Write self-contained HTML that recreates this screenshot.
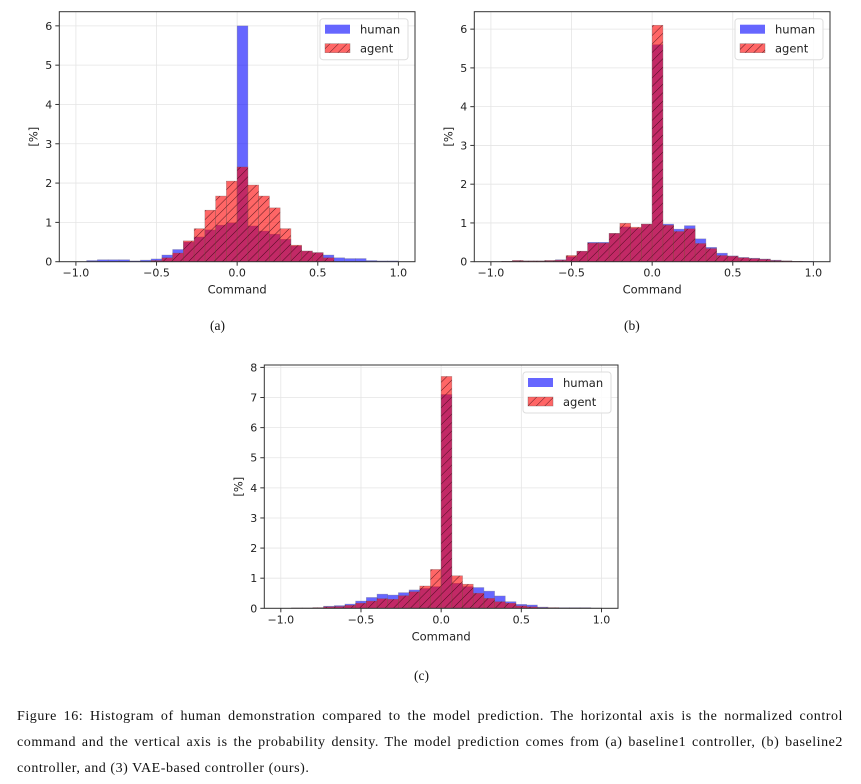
<!DOCTYPE html>
<html><head><meta charset="utf-8">
<style>
body{margin:0;background:#fff;width:861px;height:784px;overflow:hidden;position:relative;font-family:"Liberation Serif",serif;}
svg{position:absolute;left:0;top:0;}
.cap{position:absolute;font-family:"Liberation Serif",serif;font-size:13.5px;color:#111;}
.fig{position:absolute;left:17px;width:826px;font-family:"Liberation Serif",serif;font-size:14px;letter-spacing:0.55px;line-height:26px;color:#111;}
.fig .ln{display:block;text-align:justify;text-align-last:justify;white-space:nowrap;}
.fig .last{text-align-last:left;}
</style></head>
<body>
<svg id="svg" width="861" height="784">
<defs>
<pattern id="hatch" patternUnits="userSpaceOnUse" width="6" height="6" patternTransform="rotate(45)">
<line x1="0" y1="0" x2="0" y2="6" stroke="rgba(40,0,10,0.75)" stroke-width="1"/>
</pattern>
</defs>
</svg>
<div class="cap" style="left:210px;top:318px">(a)</div>
<div class="cap" style="left:624px;top:318px">(b)</div>
<div class="cap" style="left:414px;top:668px">(c)</div>
<div class="fig" style="top:704px"><span class="ln">Figure 16: Histogram of human demonstration compared to the model prediction. The horizontal axis is the normalized control</span><span class="ln">command and the vertical axis is the probability density. The model prediction comes from (a) baseline1 controller, (b) baseline2</span><span class="ln last">controller, and (3) VAE-based controller (ours).</span></div>
<script>
const binEdges = [-1,1];
const binCount = 30;
const xTicks = [-1.0,-0.5,0.0,0.5,1.0];
const xTickLabels = ["\u22121.0","\u22120.5","0.0","0.5","1.0"];
const humanA = [0,0.03,0.05,0.05,0.05,0.02,0.04,0.07,0.17,0.31,0.5,0.63,0.81,0.93,0.99,6.0,0.91,0.78,0.7,0.57,0.4,0.27,0.23,0.17,0.1,0.08,0.08,0.03,0.02,0.02];
const agentA = [0,0,0,0,0,0,0,0.03,0.1,0.22,0.53,0.84,1.31,1.67,2.05,2.41,1.95,1.67,1.37,0.84,0.42,0.27,0.23,0.1,0,0,0,0,0,0];
const humanB = [0,0.01,0.03,0.02,0.02,0.03,0.05,0.13,0.27,0.5,0.5,0.73,0.9,0.86,0.97,5.6,0.97,0.84,0.93,0.59,0.37,0.22,0.15,0.11,0.09,0.07,0.04,0.02,0.01,0.01];
const agentB = [0,0.01,0.03,0.02,0.02,0.03,0.04,0.16,0.27,0.48,0.48,0.73,0.99,0.89,0.97,6.1,0.94,0.78,0.85,0.47,0.34,0.16,0.14,0.1,0.08,0.06,0.03,0.02,0.01,0];
const humanC = [0,0.01,0.01,0.02,0.07,0.09,0.14,0.24,0.36,0.47,0.44,0.52,0.61,0.66,0.72,7.1,0.83,0.72,0.69,0.57,0.41,0.22,0.13,0.11,0.04,0.02,0.02,0.02,0.02,0.01];
const agentC = [0,0.01,0.01,0.02,0.05,0.06,0.1,0.17,0.24,0.32,0.3,0.42,0.55,0.74,1.29,7.7,1.08,0.8,0.5,0.33,0.22,0.17,0.08,0.05,0.02,0.02,0.01,0.01,0.01,0];
const yTicksA = [0,1,2,3,4,5,6];
const yTicksC = [0,1,2,3,4,5,6,7,8];

const NS="http://www.w3.org/2000/svg";
const svg=document.getElementById('svg');
function mk(tag,attrs,parent){const e=document.createElementNS(NS,tag);for(const k in attrs)e.setAttribute(k,attrs[k]);(parent||svg).appendChild(e);return e;}

function chart(id,L,T,R,B,ymax,human,agent,yTicks){
  const g=mk('g',{});
  
  
  const W=R-L,H=B-T;
  const xs=v=>L+(v+1.103)/2.206*W;
  const ys=v=>B-v/ymax*H;
  xTicks.forEach(t=>mk('line',{x1:xs(t),x2:xs(t),y1:T,y2:B,stroke:'#e5e5e5','stroke-width':0.8},g));
  yTicks.forEach(t=>mk('line',{x1:L,x2:R,y1:ys(t),y2:ys(t),stroke:'#e5e5e5','stroke-width':0.8},g));
  const bw=(binEdges[1]-binEdges[0])/binCount;
  human.forEach((v,i)=>{ if(v<=0)return;
    const r=mk('rect',{x:xs(binEdges[0]+i*bw),y:ys(v),width:xs(bw)-xs(0),height:B-ys(v),fill:'rgba(0,0,255,0.6)',stroke:'rgba(120,120,140,0.5)','stroke-width':0.6},g);
    
    
  });
  agent.forEach((v,i)=>{ if(v<=0)return;
    const a={x:xs(binEdges[0]+i*bw),y:ys(v),width:xs(bw)-xs(0),height:B-ys(v)};
    const r=mk('rect',Object.assign({fill:'rgba(255,0,0,0.6)',stroke:'rgba(120,90,90,0.5)','stroke-width':0.6},a),g);
    
    
    mk('rect',Object.assign({fill:'url(#hatch)'},a),g);
  });
  mk('rect',{x:L,y:T,width:W,height:H,fill:'none',stroke:'#333','stroke-width':1},g);
  xTicks.forEach((t,i)=>{mk('line',{x1:xs(t),x2:xs(t),y1:B,y2:B+4,stroke:'#333'},g);
    const tx=mk('text',{x:xs(t),y:B+15,'text-anchor':'middle','font-size':11,'font-family':'DejaVu Sans, sans-serif',fill:'#222'},g);tx.textContent=xTickLabels[i];});
  yTicks.forEach(t=>{mk('line',{x1:L-4,x2:L,y1:ys(t),y2:ys(t),stroke:'#333'},g);
    const tx=mk('text',{x:L-7,y:ys(t)+4,'text-anchor':'end','font-size':11,'font-family':'DejaVu Sans, sans-serif',fill:'#222'},g);tx.textContent=t;});
  const xl=mk('text',{x:(xs(-1)+xs(1))/2,y:B+32,'text-anchor':'middle','font-size':11.5,'font-family':'DejaVu Sans, sans-serif',fill:'#222'},g);xl.textContent='Command';
  
  
  const yl=mk('text',{x:0,y:0,transform:`translate(${L-22},${(T+B)/2}) rotate(-90)`,'text-anchor':'middle','font-size':11.5,'font-family':'DejaVu Sans, sans-serif',fill:'#222'},g);yl.textContent='[%]';
  
  
  const lg=mk('g',{},g);
  
  
  mk('rect',{x:R-95,y:T+7,width:88,height:41,rx:3,fill:'rgba(255,255,255,0.85)',stroke:'#ddd'},lg);
  mk('rect',{x:R-90,y:T+13,width:25,height:9,fill:'rgba(0,0,255,0.6)'},lg);
  mk('rect',{x:R-90,y:T+32,width:25,height:9,fill:'rgba(255,0,0,0.6)',stroke:'rgba(120,90,90,0.6)','stroke-width':0.6},lg);
  mk('rect',{x:R-90,y:T+32,width:25,height:9,fill:'url(#hatch)'},lg);
  const t1=mk('text',{x:R-55,y:T+22,'font-size':11.5,'font-family':'DejaVu Sans, sans-serif',fill:'#222'},lg);t1.textContent='human';
  const t2=mk('text',{x:R-55,y:T+41,'font-size':11.5,'font-family':'DejaVu Sans, sans-serif',fill:'#222'},lg);t2.textContent='agent';
}
chart('a',59.3,11.7,415,261.7,6.36,humanA,agentA,yTicksA);
chart('b',474.3,11.7,830,261.7,6.45,humanB,agentB,yTicksA);
chart('c',264.3,365,618,608.3,8.08,humanC,agentC,yTicksC);
</script>
</body></html>
